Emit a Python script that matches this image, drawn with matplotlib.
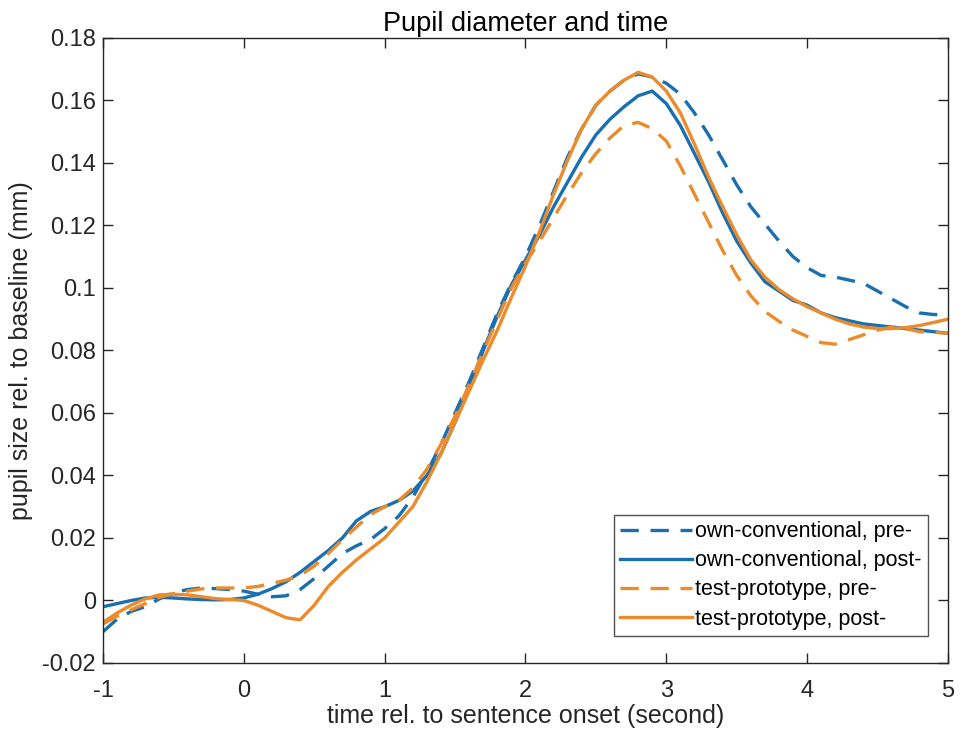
import matplotlib
matplotlib.use("Agg")
import matplotlib.pyplot as plt
import numpy as np

plt.rcParams['font.family'] = ['Liberation Sans', 'DejaVu Sans']
plt.rcParams['axes.unicode_minus'] = False

# time axis (s), 0.1 s steps from -1 to 5
time = np.round(np.arange(-1.0, 5.001, 0.1), 1)

own_pre = [-0.010, -0.006, -0.0035, -0.002, 0.0005, 0.0025, 0.0035, 0.004, 0.0038, 0.0035,
           0.003, 0.002, 0.0012, 0.0015, 0.0035, 0.007, 0.011, 0.015, 0.0175, 0.0195,
           0.023, 0.027, 0.033, 0.041, 0.050, 0.060, 0.070, 0.081, 0.092, 0.1015,
           0.110, 0.120, 0.131, 0.142, 0.151, 0.1585, 0.163, 0.1665, 0.1685, 0.1675,
           0.1655, 0.162, 0.156, 0.149, 0.141, 0.133, 0.126, 0.1205, 0.115, 0.110,
           0.1065, 0.104, 0.1035, 0.1025, 0.1015, 0.099, 0.0965, 0.094, 0.092, 0.0915,
           0.0915]
own_post = [-0.002, -0.001, 0.000, 0.0008, 0.001, 0.0008, 0.0005, 0.0003, 0.0002, 0.0003,
            0.0008, 0.002, 0.0038, 0.006, 0.009, 0.0125, 0.016, 0.020, 0.0255, 0.0285,
            0.030, 0.032, 0.035, 0.040, 0.047, 0.057, 0.068, 0.080, 0.091, 0.101,
            0.109, 0.117, 0.126, 0.134, 0.142, 0.149, 0.154, 0.158, 0.1615, 0.163,
            0.159, 0.152, 0.143, 0.134, 0.124, 0.115, 0.108, 0.102, 0.099, 0.096,
            0.0945, 0.092, 0.0905, 0.0895, 0.0885, 0.088, 0.0875, 0.087, 0.0865, 0.086,
            0.0855]
test_pre = [-0.0075, -0.005, -0.003, -0.001, 0.001, 0.0022, 0.003, 0.0037, 0.004, 0.004,
            0.004, 0.0045, 0.0055, 0.0065, 0.008, 0.011, 0.015, 0.0195, 0.0235, 0.0275,
            0.030, 0.032, 0.036, 0.042, 0.050, 0.059, 0.069, 0.0795, 0.090, 0.100,
            0.108, 0.115, 0.1225, 0.130, 0.137, 0.143, 0.148, 0.152, 0.153, 0.151,
            0.147, 0.139, 0.130, 0.121, 0.112, 0.104, 0.0975, 0.0925, 0.0893, 0.0865,
            0.0845, 0.0825, 0.082, 0.0835, 0.085, 0.0865, 0.0875, 0.087, 0.086, 0.0858,
            0.0855]
test_post = [-0.007, -0.004, -0.0015, 0.0005, 0.0018, 0.002, 0.0018, 0.0012, 0.0006, 0.0003,
             0.0, -0.0015, -0.0035, -0.0055, -0.0062, -0.0015, 0.0045, 0.009, 0.013, 0.0165,
             0.020, 0.025, 0.030, 0.038, 0.047, 0.057, 0.067, 0.077, 0.0865, 0.097,
             0.107, 0.118, 0.130, 0.141, 0.151, 0.1585, 0.163, 0.1665, 0.169, 0.1675,
             0.163, 0.156, 0.146, 0.1355, 0.126, 0.117, 0.109, 0.1035, 0.0995, 0.0965,
             0.094, 0.092, 0.090, 0.0885, 0.0875, 0.087, 0.087, 0.0873, 0.088, 0.089,
             0.090]

labels = ['own-conventional, pre-', 'own-conventional, post-',
          'test-prototype, pre-', 'test-prototype, post-']

blue = '#1A6FB0'
orange = '#EC8B2C'

fig = plt.figure(figsize=(9.64, 7.36), dpi=100)
ax = fig.add_axes([0.1068, 0.0992, 0.8766, 0.8492])

lw = 2.4
ax.plot(time, own_pre, color=blue, lw=lw, dashes=(5.5, 3.5), label=labels[0])
ax.plot(time, own_post, color=blue, lw=lw, label=labels[1])
ax.plot(time, test_pre, color=orange, lw=lw, dashes=(5.5, 3.5), label=labels[2])
ax.plot(time, test_post, color=orange, lw=lw, label=labels[3])

ax.set_xlim(-1, 5)
ax.set_ylim(-0.02, 0.18)
ax.set_xticks([-1, 0, 1, 2, 3, 4, 5])
ax.set_yticks(np.round(np.arange(-0.02, 0.181, 0.02), 2))
ax.set_yticklabels(['-0.02', '0', '0.02', '0.04', '0.06', '0.08', '0.1',
                    '0.12', '0.14', '0.16', '0.18'])

tc = '#262626'
for s in ax.spines.values():
    s.set_color(tc)
    s.set_linewidth(1.0)
ax.tick_params(direction='in', length=7, width=1.0, colors=tc, labelsize=17,
               top=True, right=True)
ax.tick_params(axis='y', pad=5)
ax.tick_params(axis='x', pad=12)

ax.set_title('Pupil diameter and time', fontsize=19.5, color='black', pad=5)
ax.set_xlabel('time rel. to sentence onset (second)', fontsize=18, color=tc, labelpad=2)
ax.set_ylabel('pupil size rel. to baseline (mm)', fontsize=18, color=tc, labelpad=7)

leg = ax.legend(loc='lower right', bbox_to_anchor=(0.976, 0.043), fontsize=15.5,
                frameon=True, fancybox=False, handlelength=3.3, handletextpad=0.15,
                borderpad=0.3, labelspacing=0.38, borderaxespad=0)
leg.get_frame().set_edgecolor(tc)
leg.get_frame().set_linewidth(1.0)

fig.savefig('out.png', dpi=100)
